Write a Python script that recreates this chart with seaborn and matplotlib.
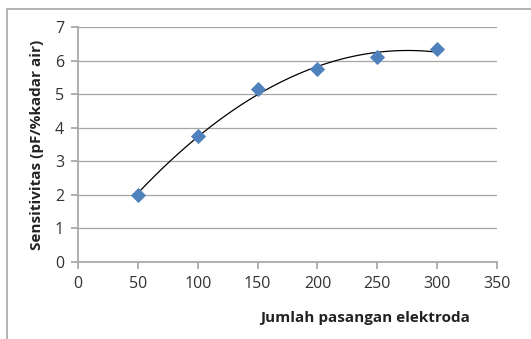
import pandas as pd
import seaborn as sns
import matplotlib.pyplot as plt
from matplotlib.patches import Rectangle

electrode_pairs = [50, 100, 150, 200, 250, 300]
sensitivity = [2.0, 3.75, 5.15, 5.75, 6.1, 6.35]

df = pd.DataFrame({"pairs": electrode_pairs, "sens": sensitivity})

sns.set_theme(style="white")
plt.rcParams["font.family"] = ["Open Sans", "DejaVu Sans"]

fig = plt.figure(figsize=(5.31, 3.39), dpi=100)
ax = fig.add_axes([0.147, 0.227, 0.789, 0.693])

sns.regplot(data=df, x="pairs", y="sens", order=2, ci=None, truncate=True,
            scatter=False, line_kws={"color": "black", "lw": 0.9}, ax=ax)
sns.scatterplot(data=df, x="pairs", y="sens", marker="D", s=60, color="#4F81BD",
                edgecolor="#4F81BD", linewidth=0, zorder=3, ax=ax)

ax.set_xlim(0, 350)
ax.set_ylim(0, 7)
ax.set_xticks(range(0, 351, 50))
ax.set_yticks(range(0, 8))
ax.yaxis.grid(True, color="#a6a6a6", lw=0.9)
ax.set_axisbelow(True)
for side in ["top", "right"]:
    ax.spines[side].set_visible(False)
for side in ["left", "bottom"]:
    ax.spines[side].set_color("#a6a6a6")
ax.tick_params(axis="both", length=5, color="#a6a6a6", labelsize=11.5,
               labelcolor="#333333", direction="out", bottom=True, left=True, pad=5)
ax.set_xlabel("")
ax.set_ylabel("Sensitivitas (pF/%kadar air)", fontsize=11, fontweight="bold",
              color="#222222", labelpad=8)
fig.text(0.688, 0.062, "Jumlah pasangan elektroda", ha="center", va="center",
         fontsize=11, fontweight="bold", color="#222222")

fig.patches.append(Rectangle((0.013, -0.05), 1.05, 1.023, transform=fig.transFigure,
                             fill=False, edgecolor="#a6a6a6", lw=1.2))

fig.savefig("out.png", dpi=100)
